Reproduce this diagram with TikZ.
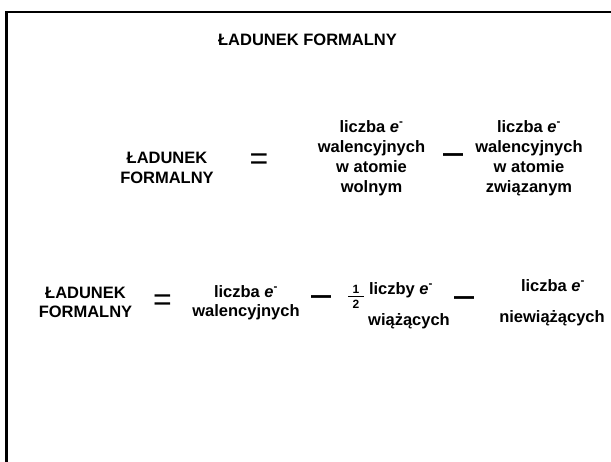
\documentclass[tikz,border=0pt]{standalone}
\usepackage{fontspec}
\setmainfont{Liberation Sans}
\newcommand{\elec}{\textit{e}\textsuperscript{-}}
\begin{document}
\begin{tikzpicture}[x=1pt,y=-1pt,
  txt/.style={font=\fontsize{16.5}{20}\selectfont\bfseries, inner sep=0pt, anchor=base},
  eqs/.style={font=\fontsize{32}{36}\selectfont, inner sep=0pt},
  mns/.style={font=\fontsize{20}{24}\selectfont\bfseries, inner sep=0pt, yscale=1.4},
  small/.style={font=\fontsize{12}{13}\selectfont\bfseries, inner sep=0pt, anchor=base},
  frame/.style={line width=2.2pt}]
\useasboundingbox (0,0) rectangle (611,461);
\draw[frame] (6.5,475) -- (6.5,12) -- (625,12);
% title
\node[txt] (title) at (307.5,45) {ŁADUNEK FORMALNY};
% row 1
\node[txt] (r1l1) at (167,163) {ŁADUNEK};
\node[txt] (r1l2) at (167,183) {FORMALNY};
\node[eqs] (r1eq) at (259,162) {=};
\node[txt] (a1) at (371.5,132) {liczba \elec};
\node[txt] (a2) at (371.5,152) {walencyjnych};
\node[txt] (a3) at (371.5,172) {w atomie};
\node[txt] (a4) at (371.5,192) {wolnym};
\node[mns] (r1m) at (453,158) {—};
\node[txt] (b1) at (529,132) {liczba \elec};
\node[txt] (b2) at (529,152) {walencyjnych};
\node[txt] (b3) at (529,172) {w atomie};
\node[txt] (b4) at (529,192) {związanym};
% row 2
\node[txt] (r2l1) at (85.5,298) {ŁADUNEK};
\node[txt] (r2l2) at (85.5,317) {FORMALNY};
\node[eqs] (r2eq) at (162.5,303) {=};
\node[txt] (c1) at (246,297) {liczba \elec};
\node[txt] (c2) at (246,316) {walencyjnych};
\node[mns] (r2m1) at (321,300) {—};
\node[small] (one) at (356,293) {1};
\coordinate (barl) at (348,296.5);
\coordinate (barr) at (364,296.5);
\draw[line width=0.9pt] (barl) -- (barr);
\node[small] (two) at (356,308.5) {2};
\node[txt] (d1) at (401,294) {liczby \elec};
\node[txt] (d2) at (409,325) {wiążących};
\node[mns] (r2m2) at (464,301) {—};
\node[txt] (e1) at (553,291) {liczba \elec};
\node[txt] (e2) at (552,322) {niewiążących};
\end{tikzpicture}
\end{document}
